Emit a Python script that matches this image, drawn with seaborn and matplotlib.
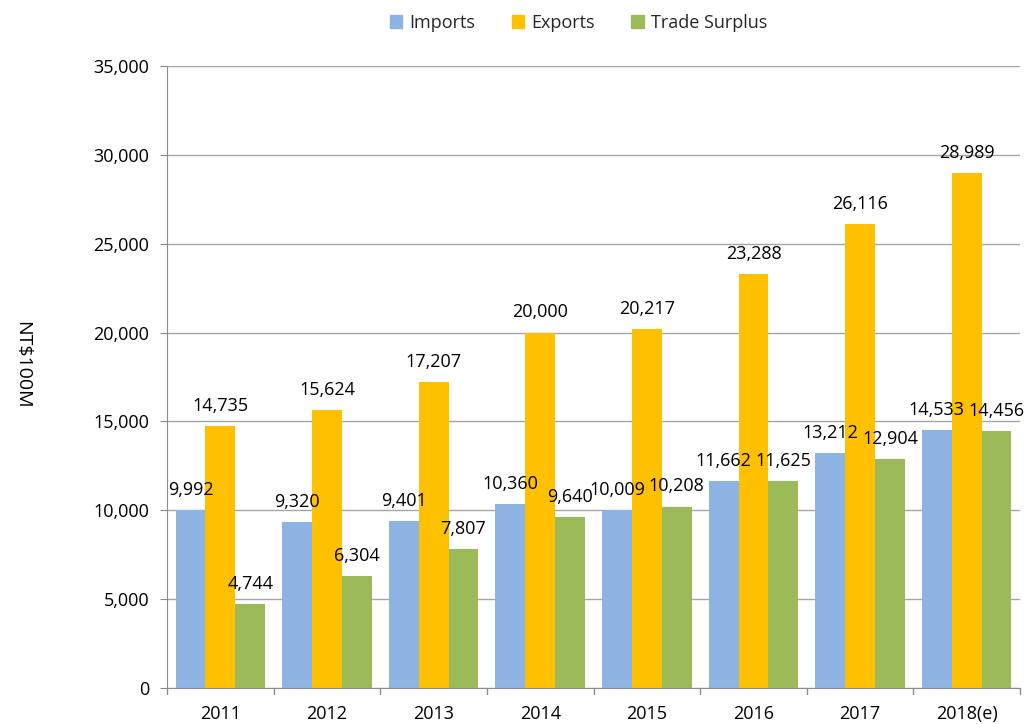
import pandas as pd
import seaborn as sns
import matplotlib.pyplot as plt
from matplotlib.patches import Patch

years = ['2011', '2012', '2013', '2014', '2015', '2016', '2017', '2018(e)']
imports = [9992, 9320, 9401, 10360, 10009, 11662, 13212, 14533]
exports = [14735, 15624, 17207, 20000, 20217, 23288, 26116, 28989]
surplus = [4744, 6304, 7807, 9640, 10208, 11625, 12904, 14456]
series = ['Imports', 'Exports', 'Trade Surplus']
colors = ['#8DB4E2', '#FFC000', '#9BBB59']

df = pd.DataFrame({
    'year': years * 3,
    'value': imports + exports + surplus,
    'kind': [s for s in series for _ in years],
})

sns.set_style('white')
plt.rcParams['font.family'] = ['Open Sans', 'DejaVu Sans']

fig = plt.figure(figsize=(10.33, 7.24), dpi=100)
ax = fig.add_axes([0.1617, 0.0497, 0.8257, 0.8591])

sns.barplot(data=df, x='year', y='value', hue='kind', palette=colors,
            width=0.84, saturation=1, ax=ax, legend=False, errorbar=None,
            linewidth=0)

for cont in ax.containers:
    labels = [f'{v:,.0f}' for v in cont.datavalues]
    ax.bar_label(cont, labels=labels, padding=8, fontsize=13, color='#000000')

ax.set_ylim(0, 35000)
ax.set_xlim(-0.5, len(years) - 0.5)
ax.set_yticks(range(0, 35001, 5000))
ax.set_yticklabels([f'{v:,}' for v in range(0, 35001, 5000)], fontsize=13, color='#000000')
ax.tick_params(axis='x', labelsize=13, labelcolor='#000000', length=0, pad=12)
ax.tick_params(axis='y', length=5, color='#888888', left=True, pad=8)
ax.yaxis.grid(True, color='#a6a6a6', linewidth=1)
ax.set_axisbelow(True)
for s in ['top', 'right']:
    ax.spines[s].set_visible(False)
for s in ['left', 'bottom']:
    ax.spines[s].set_color('#8c8c8c')
ax.set_xlabel('')
ax.set_ylabel('NT$100M', rotation=270, fontsize=14, va='center', color='#000000')
ax.yaxis.set_label_coords(-0.17, 0.52)

# x tick marks between groups
for i in range(len(years) + 1):
    ax.plot([i - 0.5, i - 0.5], [0, -350], color='#8c8c8c', lw=1, clip_on=False)

handles = [Patch(color=c, label=s) for c, s in zip(colors, series)]
fig.legend(handles=handles, loc='upper center', bbox_to_anchor=(0.56, 1.003),
           ncol=3, frameon=False, fontsize=13, handlelength=0.7, handleheight=0.7,
           columnspacing=2.0, handletextpad=0.4)

fig.savefig('out.png', dpi=100)
